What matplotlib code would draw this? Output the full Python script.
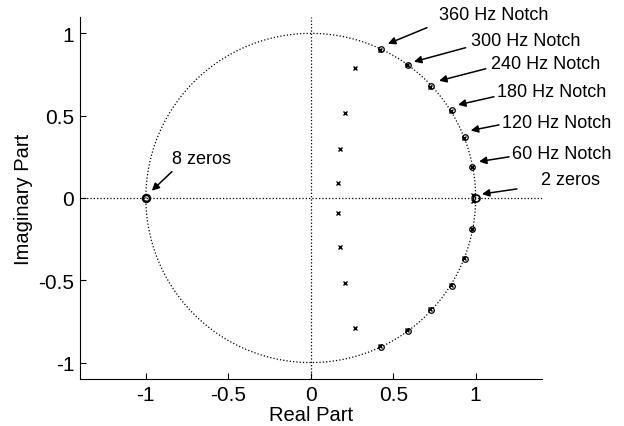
import numpy as np
import matplotlib.pyplot as plt

plt.rcParams['font.family'] = ['Liberation Sans', 'DejaVu Sans']
plt.rcParams['axes.unicode_minus'] = False

# notch zeros on the unit circle (upper half, conjugates mirrored below)
zero_re = [0.98, 0.935, 0.855, 0.73, 0.59, 0.425]
zero_im = [0.19, 0.37, 0.535, 0.68, 0.81, 0.905]
# zeros at z = 1 (2) and z = -1 (8)
dc_zero = (1.0, 0.0)
ny_zero = (-1.0, 0.0)

# poles: next to each notch zero, near z = 1, and the inner set
pole_re = [0.975, 0.93, 0.85, 0.725, 0.585, 0.42, 0.985, 0.268, 0.21, 0.178, 0.165]
pole_im = [0.188, 0.367, 0.53, 0.675, 0.805, 0.9, 0.02, 0.787, 0.515, 0.296, 0.094]

labels = ["360 Hz Notch", "300 Hz Notch", "240 Hz Notch", "180 Hz Notch",
          "120 Hz Notch", "60 Hz Notch", "2 zeros", "8 zeros"]
text_xy = [(0.778, 1.114), (0.97, 0.956), (1.091, 0.816), (1.129, 0.645),
           (1.159, 0.456), (1.22, 0.268), (1.394, 0.11), (-0.841, 0.237)]
arrow_from = [(0.705, 1.035), (0.939, 0.913), (1.061, 0.785), (1.111, 0.615),
              (1.141, 0.444), (1.202, 0.25), (1.25, 0.055), (-0.842, 0.16)]
arrow_to = [(0.468, 0.937), (0.626, 0.828), (0.778, 0.712), (0.893, 0.566),
            (0.97, 0.41), (1.02, 0.221), (1.038, 0.024), (-0.964, 0.044)]

fig = plt.figure(figsize=(6.24, 4.27), dpi=100)
ax = fig.add_axes([0.128, 0.110, 0.740, 0.848])

t = np.linspace(0, 2 * np.pi, 400)
ax.plot(np.cos(t), np.sin(t), ':', color='k', lw=0.9)
ax.axhline(0, ls=':', color='k', lw=0.9)
ax.axvline(0, ls=':', color='k', lw=0.9)

zr = np.array(zero_re)
zi = np.array(zero_im)
ax.plot(np.r_[zr, zr], np.r_[zi, -zi], 'o', ms=4, mfc='none', mec='k', mew=0.9)
ax.plot([dc_zero[0]], [dc_zero[1]], 'o', ms=5, mfc='none', mec='k', mew=1.2)
ax.plot([ny_zero[0]], [ny_zero[1]], 'o', ms=5, mfc='none', mec='k', mew=1.8)

pr = np.array(pole_re)
pi_ = np.array(pole_im)
ax.plot(np.r_[pr, pr], np.r_[pi_, -pi_], 'x', ms=3.5, color='k', mew=1.0)

for lab, txy, a0, a1 in zip(labels, text_xy, arrow_from, arrow_to):
    ax.annotate('', xy=a1, xytext=a0,
                arrowprops=dict(arrowstyle='-|>', color='k', lw=1.1,
                                mutation_scale=11, shrinkA=0, shrinkB=0),
                annotation_clip=False)
    ax.text(txy[0], txy[1], lab, fontsize=13, ha='left', va='center', clip_on=False)

ax.set_xlim(-1.4, 1.4)
ax.set_ylim(-1.1, 1.1)
ax.set_aspect('auto')
ax.set_xticks([-1, -0.5, 0, 0.5, 1])
ax.set_xticklabels(['-1', '-0.5', '0', '0.5', '1'])
ax.set_yticks([-1, -0.5, 0, 0.5, 1])
ax.set_yticklabels(['-1', '-0.5', '0', '0.5', '1'])
ax.tick_params(direction='in', length=4, labelsize=15, width=0.8, pad=4)
ax.spines['top'].set_visible(False)
ax.spines['right'].set_visible(False)
for s in ('left', 'bottom'):
    ax.spines[s].set_linewidth(0.8)
ax.set_xlabel('Real Part', fontsize=14.5, labelpad=1)
ax.set_ylabel('Imaginary Part', fontsize=14.5, labelpad=4)

fig.savefig('out.png', dpi=100)
